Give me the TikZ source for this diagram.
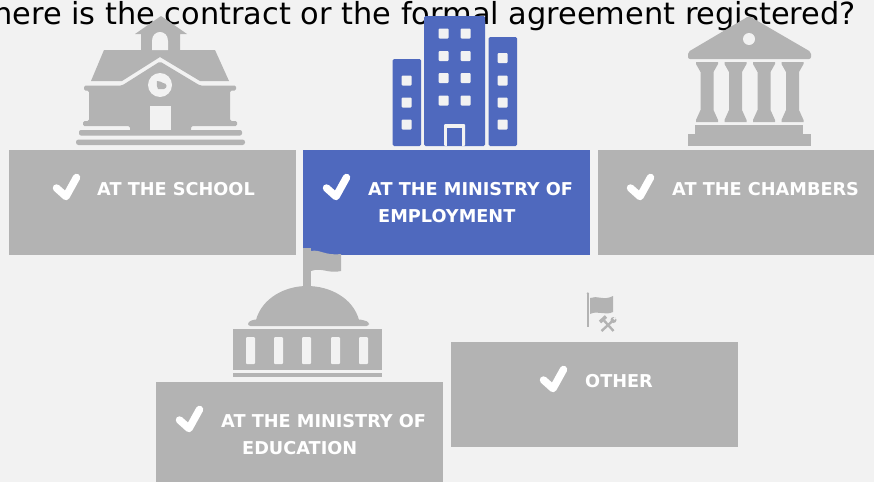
\documentclass[tikz,border=0pt]{standalone}
\usepackage{fontspec}
\setmainfont{DejaVu Sans}
\definecolor{bgc}{HTML}{F2F2F2}
\definecolor{greyc}{HTML}{B3B3B3}
\definecolor{bluec}{HTML}{4F69BE}
\tikzset{
  panel/.style={fill=#1,draw=none},
  lab/.style={anchor=base west,inner sep=0pt,text=white,font=\fontsize{17.7}{20}\selectfont\bfseries},
  tick/.style={draw=white,line width=7.5pt,line cap=round,line join=round},
  ico/.style={fill=greyc,draw=none},
  hole/.style={fill=bgc,draw=none}
}
\newcommand{\chk}[2]{\draw[tick] (#1+3.5,#2+2) -- (#1+13,#2+10.5) -- (#1+23.5,#2-8.5);}
\begin{document}
\begin{tikzpicture}[x=1pt,y=-1pt]
\useasboundingbox (0,0) rectangle (874,482);
\clip (0,0) rectangle (874,482);
\fill[bgc] (0,0) rectangle (874,482);
\node[anchor=base east,inner sep=0pt,text=black,font=\fontsize{30.4}{36}\selectfont] (title) at (856,24.5) {Where is the contract or the formal agreement registered?};
% boxes
\fill[panel=greyc] (9,150) rectangle (296,255);
\fill[panel=bluec] (303,150) rectangle (590,255);
\fill[panel=greyc] (598,150) rectangle (874,255);
\fill[panel=greyc] (156,382) rectangle (443,482);
\fill[panel=greyc] (451,342) rectangle (738,447);
% labels
\chk{53}{186}
\node[lab] (l1) at (97,195) {AT THE SCHOOL};
\chk{323}{186}
\node[lab] (l2a) at (368,195) {AT THE MINISTRY OF};
\node[lab] (l2b) at (378,222) {EMPLOYMENT};
\chk{627}{186}
\node[lab] (l3) at (672,195) {AT THE CHAMBERS};
\chk{176}{418}
\node[lab] (l4a) at (221,427) {AT THE MINISTRY OF};
\node[lab] (l4b) at (242,454) {EDUCATION};
\chk{540}{378}
\node[lab] (l5) at (585,387) {OTHER};
% school
\fill[ico] (161,16) -- (187,34) -- (180,34) -- (180,50) -- (215,50) -- (229,81) -- (200,81) -- (160,57) -- (122,81) -- (91,81) -- (104,50) -- (141,50) -- (141,34) -- (135,34) -- cycle;
\fill[hole] (152,50) -- (152,41) .. controls (152,29) and (168,29) .. (168,41) -- (168,50) -- cycle;
\fill[ico,rounded corners=1.5pt] (84,90.5) -- (84,85.5) -- (122,85.5) -- (160,61.5) -- (200,85.5) -- (236,85.5) -- (236,90.5) -- (230,90.5) -- (230,121) -- (237,121) -- (237,126) -- (191,126) -- (191,131) -- (130,131) -- (130,126) -- (83,126) -- (83,121) -- (89,121) -- (89,90.5) -- cycle;
\fill[ico,rounded corners=2pt] (79,130) rectangle (242,135.5);
\fill[ico,rounded corners=2.5pt] (76,139.5) rectangle (245,145);
\fill[hole] (150,106) rectangle (171,130);
\fill[hole] (160,85) circle (12);
\fill[ico] (157,81) .. controls (160,80) and (161,83) .. (163,83) .. controls (167,83) and (168,88) .. (164,89) -- (158,89) .. controls (157,87) and (156,84) .. (157,81) -- cycle;
% building
\begin{scope}
\fill[bluec,rounded corners=1.5pt] (392.5,59) rectangle (421,146);
\fill[bluec,rounded corners=1.5pt] (424,16) rectangle (485,146);
\fill[bluec,rounded corners=1.5pt] (488.5,37) rectangle (517,146);
\foreach \y in {80.5,102.5,124.5} \fill[hole,rounded corners=1pt] (401.5,\y-5) rectangle (411.5,\y+5);
\foreach \y in {58,80.5,102.5,124.5} \fill[hole,rounded corners=1pt] (497.5,\y-5) rectangle (507.5,\y+5);
\foreach \x in {443.5,465.5} \foreach \y in {33.5,56,78,100.5} \fill[hole,rounded corners=1pt] (\x-5,\y-5) rectangle (\x+5,\y+5);
\fill[hole,rounded corners=1pt] (444,124) rectangle (465,146);
\fill[bluec] (447,127.5) rectangle (462,146);
\end{scope}
% chambers
\fill[ico,rounded corners=2pt] (749,16) -- (811,52) -- (811,59) -- (688,59) -- (688,52) -- cycle;
\fill[hole] (749,39) circle (6);
\foreach \x in {707,735.5,764,792.5}
  \fill[ico] (\x-11,62) -- (\x+11,62) -- (\x+11,64) -- (\x+6.5,72) -- (\x+6.5,110) -- (\x+11,120) -- (\x+11,122) -- (\x-11,122) -- (\x-11,120) -- (\x-6.5,110) -- (\x-6.5,72) -- (\x-11,64) -- cycle;
\fill[ico] (695,125) rectangle (803,134);
\fill[ico] (688,134) rectangle (811,146);
% capitol
\fill[ico] (303,248) rectangle (311,287);
\fill[ico] (311,251) .. controls (320,249) and (325,256) .. (341,254) -- (341,271) .. controls (328,274) and (322,267) .. (311,271) -- cycle;
\fill[ico] (256,320) .. controls (262,298) and (285,286) .. (307,286) .. controls (330,286) and (353,298) .. (359,320) -- cycle;
\fill[ico,rounded corners=2.5pt] (248,326) -- (248,322) -- (254,319.5) -- (361,319.5) -- (369,322) -- (369,326) -- cycle;
\fill[ico] (233,329) rectangle (382,370);
\fill[ico] (233,372.5) rectangle (382,377);
\foreach \x in {246,274,302,331,359} \fill[hole,rounded corners=1pt] (\x,337) rectangle (\x+9,364);
% other flag
\fill[ico] (587,294) rectangle (589,327);
\fill[ico] (587.9,293.5) circle (1.3);
\fill[ico] (590,298) .. controls (597,295) and (604,301) .. (613,296) -- (613,312) .. controls (605,316) and (598,310) .. (590,314) -- cycle;
\draw[greyc,line width=2.4pt] (601.5,331) -- (613,320.5);
\fill[ico] (613.5,320) circle (3);
\fill[hole] (614.5,318.5) circle (1.3);
\draw[greyc,line width=2.4pt] (613.5,331) -- (604,320.5);
\draw[greyc,line width=3.5pt] (600,322) -- (606,316.5);
\end{tikzpicture}
\end{document}
